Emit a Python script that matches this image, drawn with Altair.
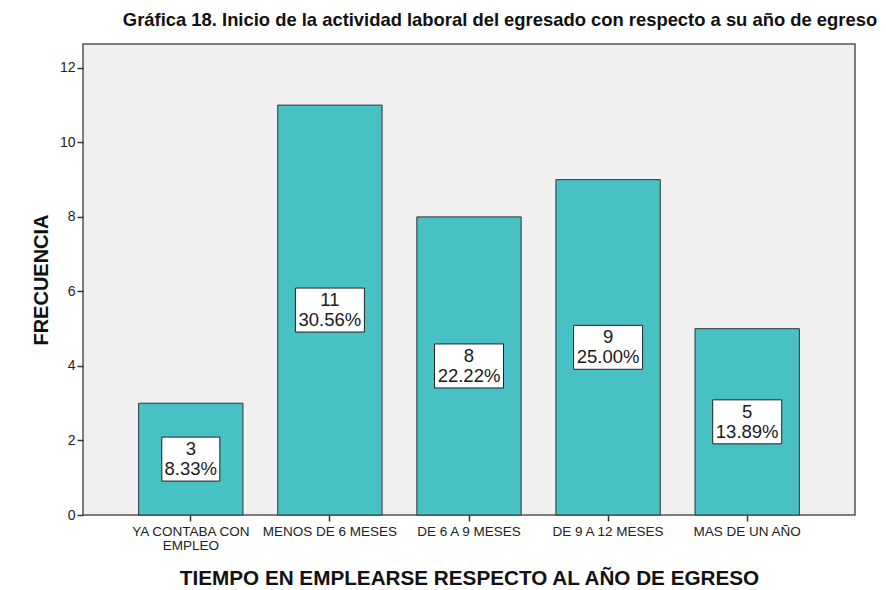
import altair as alt
import pandas as pd

categories = ["YA CONTABA CON EMPLEO", "MENOS DE 6 MESES", "DE 6 A 9 MESES",
              "DE 9 A 12 MESES", "MAS DE UN AÑO"]
counts = [3, 11, 8, 9, 5]
percents = ["8.33%", "30.56%", "22.22%", "25.00%", "13.89%"]
y_ticks = [0, 2, 4, 6, 8, 10, 12]

df = pd.DataFrame({"cat": categories, "n": counts, "pct": percents})
df["mid"] = df["n"] / 2
df["lo"] = df["mid"] - 0.59
df["hi"] = df["mid"] + 0.59
df["boxw"] = df["pct"].str.len() * 11 + 3
df["ntxt"] = df["n"].astype(str)

FONT = "Liberation Sans"

xenc = alt.X(
    "cat:N", sort=categories,
    scale=alt.Scale(paddingInner=0.25, paddingOuter=0.4),
    axis=alt.Axis(
        title="TIEMPO EN EMPLEARSE RESPECTO AL AÑO DE EGRESO",
        titleFont=FONT, titleFontSize=20.7, titleFontWeight="bold", titleColor="#111",
        titlePadding=17,
        labelFont=FONT, labelFontSize=13.5, labelColor="#222", labelAngle=0,
        labelPadding=3, labelLimit=300, labelOverlap=False, labelLineHeight=14,
        labelExpr="datum.label == 'YA CONTABA CON EMPLEO' ? ['YA CONTABA CON', 'EMPLEO'] : datum.label",
        tickColor="#333", tickSize=6, tickWidth=1.5, domain=False, grid=False,
    ),
)

yscale = alt.Scale(domain=[0, 12.64], nice=False, zero=True)

bars = alt.Chart(df).mark_bar(
    fill="#48c1c4", stroke="#333", strokeWidth=1
).encode(
    x=xenc,
    y=alt.Y("n:Q", scale=yscale,
            axis=alt.Axis(
                values=y_ticks, title="FRECUENCIA",
                titleFont=FONT, titleFontSize=20, titleFontWeight="bold", titleColor="#111",
                titlePadding=8,
                labelFont=FONT, labelFontSize=14, labelColor="#222", labelPadding=2,
                tickColor="#333", tickSize=6, tickWidth=1.5, domain=False, grid=False,
            )),
)

boxes = alt.Chart(df).mark_bar(
    fill="white", stroke="#222", strokeWidth=1
).encode(
    x=alt.X("cat:N", sort=categories),
    y=alt.Y("lo:Q", scale=yscale),
    y2="hi:Q",
    size=alt.Size("boxw:Q", scale=None, legend=None),
)

top_text = alt.Chart(df).mark_text(
    font=FONT, fontSize=18.5, color="#1a1a1a", baseline="middle", align="center", dy=-10
).encode(
    x=alt.X("cat:N", sort=categories),
    y=alt.Y("mid:Q", scale=yscale),
    text="ntxt:N",
)

bottom_text = alt.Chart(df).mark_text(
    font=FONT, fontSize=18.5, color="#1a1a1a", baseline="middle", align="center", dy=10
).encode(
    x=alt.X("cat:N", sort=categories),
    y=alt.Y("mid:Q", scale=yscale),
    text="pct:N",
)

chart = alt.layer(bars, boxes, top_text, bottom_text).properties(
    width=772, height=471,
    background="white",
    autosize=alt.AutoSizeParams(type="none"),
    padding={"left": 75, "top": 36, "right": 23, "bottom": 75},
    title=alt.TitleParams(
        "Gráfica 18. Inicio de la actividad laboral del egresado con respecto a su año de egreso",
        font=FONT, fontSize=18.4, fontWeight="bold", color="#111",
        anchor="middle", dx=31, offset=15,
    ),
).configure_view(
    fill="#f0f0f0", stroke="#555", strokeWidth=1.5
)

chart.save("out.html", embed_options={"renderer": "svg", "actions": False})
